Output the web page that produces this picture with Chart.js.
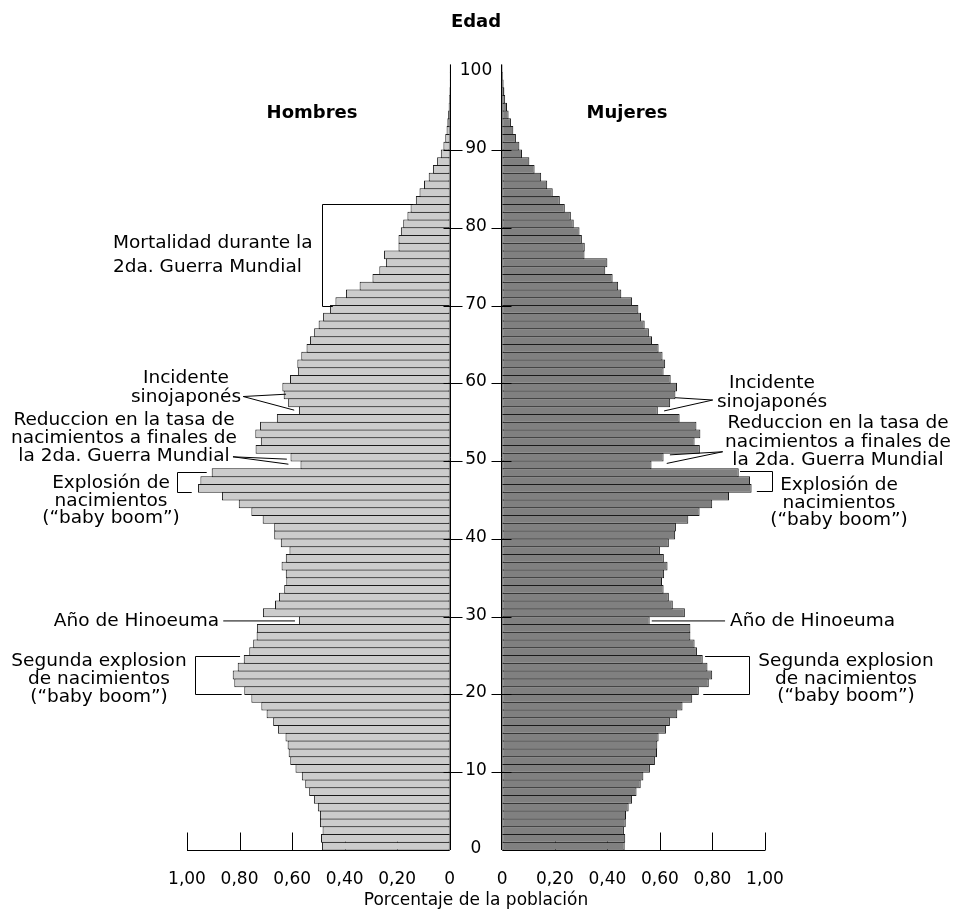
<!DOCTYPE html>
<html lang="es">
<head>
  <meta charset="UTF-8">
  <title>Pirámide de población</title>
  <style>
    html, body { margin: 0; padding: 0; background: #fff; }
    canvas { display: block; }
  </style>
</head>
<body>
  <canvas id="myChart" width="956" height="915"></canvas>
  <script src="https://cdn.jsdelivr.net/npm/chart.js"></script>
  <script>
    // edad (años cumplidos), una barra por edad
    const edades = [
      0, 1, 2, 3, 4, 5, 6, 7, 8, 9,
      10, 11, 12, 13, 14, 15, 16, 17, 18, 19,
      20, 21, 22, 23, 24, 25, 26, 27, 28, 29,
      30, 31, 32, 33, 34, 35, 36, 37, 38, 39,
      40, 41, 42, 43, 44, 45, 46, 47, 48, 49,
      50, 51, 52, 53, 54, 55, 56, 57, 58, 59,
      60, 61, 62, 63, 64, 65, 66, 67, 68, 69,
      70, 71, 72, 73, 74, 75, 76, 77, 78, 79,
      80, 81, 82, 83, 84, 85, 86, 87, 88, 89,
      90, 91, 92, 93, 94, 95, 96, 97, 98, 99,
      100
    ]

    // porcentaje de la población por edad
    const hombres = [
      0.486, 0.490, 0.484, 0.494, 0.494, 0.502, 0.517, 0.535, 0.550, 0.563,
      0.587, 0.607, 0.613, 0.617, 0.625, 0.654, 0.672, 0.697, 0.717, 0.755,
      0.782, 0.820, 0.826, 0.807, 0.784, 0.763, 0.748, 0.735, 0.734, 0.574,
      0.711, 0.665, 0.650, 0.630, 0.622, 0.624, 0.640, 0.624, 0.610, 0.643,
      0.668, 0.668, 0.712, 0.755, 0.803, 0.867, 0.958, 0.949, 0.906, 0.568,
      0.606, 0.739, 0.719, 0.740, 0.722, 0.658, 0.574, 0.615, 0.632, 0.637,
      0.608, 0.578, 0.580, 0.565, 0.545, 0.532, 0.516, 0.499, 0.482, 0.456,
      0.435, 0.395, 0.343, 0.294, 0.268, 0.243, 0.250, 0.195, 0.195, 0.186,
      0.177, 0.161, 0.149, 0.129, 0.115, 0.098, 0.080, 0.064, 0.048, 0.034,
      0.024, 0.017, 0.012, 0.009, 0.006, 0.004, 0.003, 0.002, 0.001, 0.001,
      0.001
    ]

    const mujeres = [
      0.466, 0.468, 0.463, 0.470, 0.471, 0.481, 0.494, 0.511, 0.527, 0.537,
      0.562, 0.581, 0.589, 0.590, 0.595, 0.623, 0.638, 0.666, 0.686, 0.723,
      0.748, 0.786, 0.799, 0.781, 0.763, 0.741, 0.732, 0.716, 0.716, 0.561,
      0.695, 0.649, 0.634, 0.614, 0.608, 0.616, 0.629, 0.615, 0.600, 0.634,
      0.658, 0.661, 0.708, 0.751, 0.799, 0.863, 0.949, 0.943, 0.900, 0.568,
      0.614, 0.752, 0.732, 0.754, 0.739, 0.675, 0.592, 0.639, 0.659, 0.665,
      0.641, 0.614, 0.620, 0.610, 0.595, 0.570, 0.558, 0.542, 0.528, 0.518,
      0.494, 0.453, 0.441, 0.420, 0.392, 0.400, 0.313, 0.314, 0.303, 0.294,
      0.272, 0.261, 0.238, 0.219, 0.192, 0.171, 0.148, 0.123, 0.103, 0.075,
      0.065, 0.052, 0.042, 0.033, 0.024, 0.018, 0.011, 0.008, 0.005, 0.003,
      0.002
    ]

    const ticksPorcentaje = [0, 0.2, 0.4, 0.6, 0.8, 1.0]
    const ticksEdad = [0, 10, 20, 30, 40, 50, 60, 70, 80, 90, 100]

    const GAP = 0.1  // media separación central, en unidades del eje x
    const FONT = 'DejaVu Sans'

    Chart.defaults.font.family = FONT
    Chart.defaults.color = '#000'

    // anotaciones: texto en píxeles, puntos de guía en (porcentaje, edad)
    const textos = [
      { lines: ['Mortalidad durante la', '2da. Guerra Mundial'], x: 113, y: 248, lh: 24, align: 'left' },
      { lines: ['Incidente', 'sinojaponés'], x: 186, y: 383, lh: 18.5, align: 'center' },
      { lines: ['Reduccion en la tasa de', 'nacimientos a finales de', 'la 2da. Guerra Mundial'], x: 124, y: 425, lh: 18, align: 'center' },
      { lines: ['Explosión de', 'nacimientos', '(“baby boom”)'], x: 111, y: 488, lh: 17.5, align: 'center' },
      { lines: ['Año de Hinoeuma'], x: 219, y: 626, lh: 18, align: 'right' },
      { lines: ['Segunda explosion', 'de nacimientos', '(“baby boom”)'], x: 99, y: 666, lh: 18, align: 'center' },
      { lines: ['Incidente', 'sinojaponés'], x: 772, y: 388, lh: 18.5, align: 'center' },
      { lines: ['Reduccion en la tasa de', 'nacimientos a finales de', 'la 2da. Guerra Mundial'], x: 838, y: 428, lh: 18.5, align: 'center' },
      { lines: ['Explosión de', 'nacimientos', '(“baby boom”)'], x: 839, y: 490, lh: 17.5, align: 'center' },
      { lines: ['Año de Hinoeuma'], x: 730, y: 626, lh: 18, align: 'left' },
      { lines: ['Segunda explosion', 'de nacimientos', '(“baby boom”)'], x: 846, y: 666, lh: 17.5, align: 'center' }
    ]

    const corchetes = [
      { side: -1, x: 0.486, a1: 83, a2: 70, e1: 0.14, e2: 0.445 },
      { side: -1, x: 1.039, a1: 48.65, a2: 46.05, e1: 0.925, e2: 0.982 },
      { side: -1, x: 0.97, a1: 25, a2: 20, e1: 0.798, e2: 0.792 },
      { side: 1, x: 1.026, a1: 48.7, a2: 46.15, e1: 0.905, e2: 0.969 },
      { side: 1, x: 0.94, a1: 25, a2: 20, e1: 0.772, e2: 0.765 }
    ]

    const guias = [
      { side: -1, from: [0.786, 58.3], to: [[0.623, 58.6], [0.592, 56.55]] },
      { side: -1, from: [0.825, 50.55], to: [[0.62, 50.25], [0.614, 49.6]] },
      { side: -1, from: [0.862, 29.45], to: [[0.589, 29.45]] },
      { side: 1, from: [0.801, 57.85], to: [[0.657, 58.15], [0.616, 56.45]] },
      { side: 1, from: [0.839, 51.2], to: [[0.638, 50.8], [0.626, 49.7]] },
      { side: 1, from: [0.569, 29.45], to: [[0.848, 29.45]] }
    ]

    const px = (chart, side, pct) => chart.scales.x.getPixelForValue(side * (GAP + pct))
    const py = (chart, age) => chart.scales.y.getPixelForValue(age)

    const piramide = {
      id: 'piramide',
      beforeDatasetsDraw(chart) {
        const ctx = chart.ctx
        const y0 = Math.round(py(chart, 0)) + 0.5
        ctx.save()
        ctx.strokeStyle = '#000'
        ctx.lineWidth = 1
        ctx.beginPath()
        ;[-1, 1].forEach(side => {
          ctx.moveTo(px(chart, side, 0), y0)
          ctx.lineTo(px(chart, side, 1), y0)
          ticksPorcentaje.forEach(t => {
            if (!t) return
            const x = Math.round(px(chart, side, t)) + 0.5
            ctx.moveTo(x, y0)
            ctx.lineTo(x, y0 - 18)
          })
        })
        ctx.stroke()
        ctx.restore()
      },
      afterDatasetsDraw(chart) {
        const ctx = chart.ctx
        ctx.save()
        ctx.strokeStyle = '#000'
        ctx.fillStyle = '#000'
        ctx.lineWidth = 1

        // ejes verticales centrales y marcas de edad
        const xl = Math.round(px(chart, -1, 0)) + 0.5
        const xr = Math.round(px(chart, 1, 0)) - 0.5
        ctx.beginPath()
        ctx.moveTo(xl, py(chart, 0)); ctx.lineTo(xl, py(chart, 101))
        ctx.moveTo(xr, py(chart, 0)); ctx.lineTo(xr, py(chart, 101))
        ticksEdad.forEach(a => {
          if (a === 0 || a === 100) return
          const y = Math.round(py(chart, a)) + 0.5
          ctx.moveTo(xl - 7, y); ctx.lineTo(xl + 12, y)
          ctx.moveTo(xr - 10, y); ctx.lineTo(xr + 10, y)
        })
        ctx.stroke()

        ctx.font = '17px ' + FONT
        ctx.textAlign = 'center'
        ctx.textBaseline = 'alphabetic'
        const xc = (px(chart, -1, 0) + px(chart, 1, 0)) / 2
        ticksEdad.forEach(a => ctx.fillText(String(a), xc, py(chart, a) + 3))

        // títulos
        ctx.font = 'bold 18px ' + FONT
        ctx.fillText('Edad', xc, 27)
        ctx.fillText('Hombres', 312, 118)
        ctx.fillText('Mujeres', 627, 118)

        // corchetes
        ctx.beginPath()
        corchetes.forEach(c => {
          const x = Math.round(px(chart, c.side, c.x)) + 0.5
          const y1 = Math.round(py(chart, c.a1)) + 0.5
          const y2 = Math.round(py(chart, c.a2)) + 0.5
          ctx.moveTo(px(chart, c.side, c.e1), y1)
          ctx.lineTo(x, y1)
          ctx.lineTo(x, y2)
          ctx.lineTo(px(chart, c.side, c.e2), y2)
        })
        // líneas guía
        guias.forEach(g => {
          g.to.forEach(t => {
            ctx.moveTo(px(chart, g.side, g.from[0]), py(chart, g.from[1]))
            ctx.lineTo(px(chart, g.side, t[0]), py(chart, t[1]))
          })
        })
        ctx.stroke()

        // textos
        ctx.font = '18.5px ' + FONT
        textos.forEach(t => {
          ctx.textAlign = t.align
          t.lines.forEach((line, i) => ctx.fillText(line, t.x, t.y + i * t.lh))
        })
        ctx.restore()
      }
    }

    const ctx = document.getElementById('myChart')

    new Chart(ctx, {
      type: 'bar',
      data: {
        datasets: [
          {
            label: 'Hombres',
            data: edades.map((a, i) => ({ x: [-(GAP + hombres[i]), -GAP], y: a + 0.5 })),
            backgroundColor: '#cccccc'
          },
          {
            label: 'Mujeres',
            data: edades.map((a, i) => ({ x: [GAP, GAP + mujeres[i]], y: a + 0.5 })),
            backgroundColor: '#808080'
          }
        ]
      },
      options: {
        indexAxis: 'y',
        responsive: false,
        animation: false,
        layout: { padding: { top: 64.4, left: 187, right: 191, bottom: 0 } },
        datasets: {
          bar: {
            grouped: false,
            categoryPercentage: 1,
            barPercentage: 1.13,
            borderWidth: 1,
            borderSkipped: false,
            borderColor: '#1a1a1a'
          }
        },
        plugins: {
          legend: { display: false },
          tooltip: { enabled: false }
        },
        scales: {
          y: { type: 'linear', min: 0, max: 101, offset: false, display: false },
          x: {
            type: 'linear',
            min: -1.1,
            max: 1.1,
            offset: false,
            grid: { display: false },
            border: { display: false },
            afterBuildTicks: axis => {
              axis.ticks = ticksPorcentaje.slice().reverse().map(t => ({ value: -(GAP + t) }))
                .concat(ticksPorcentaje.map(t => ({ value: GAP + t })))
            },
            ticks: {
              autoSkip: false,
              maxRotation: 0,
              padding: 11,
              font: { size: 17 },
              color: '#000',
              callback: v => {
                const p = Math.abs(v) - GAP
                return p < 0.001 ? '0' : p.toFixed(2).replace('.', ',')
              }
            },
            title: {
              display: true,
              text: 'Porcentaje de la población',
              font: { size: 17 },
              color: '#000',
              padding: { top: 0, bottom: 4 }
            },
            afterFit: scale => { scale.height = 65 }
          }
        }
      },
      plugins: [piramide]
    })
  </script>
</body>
</html>
